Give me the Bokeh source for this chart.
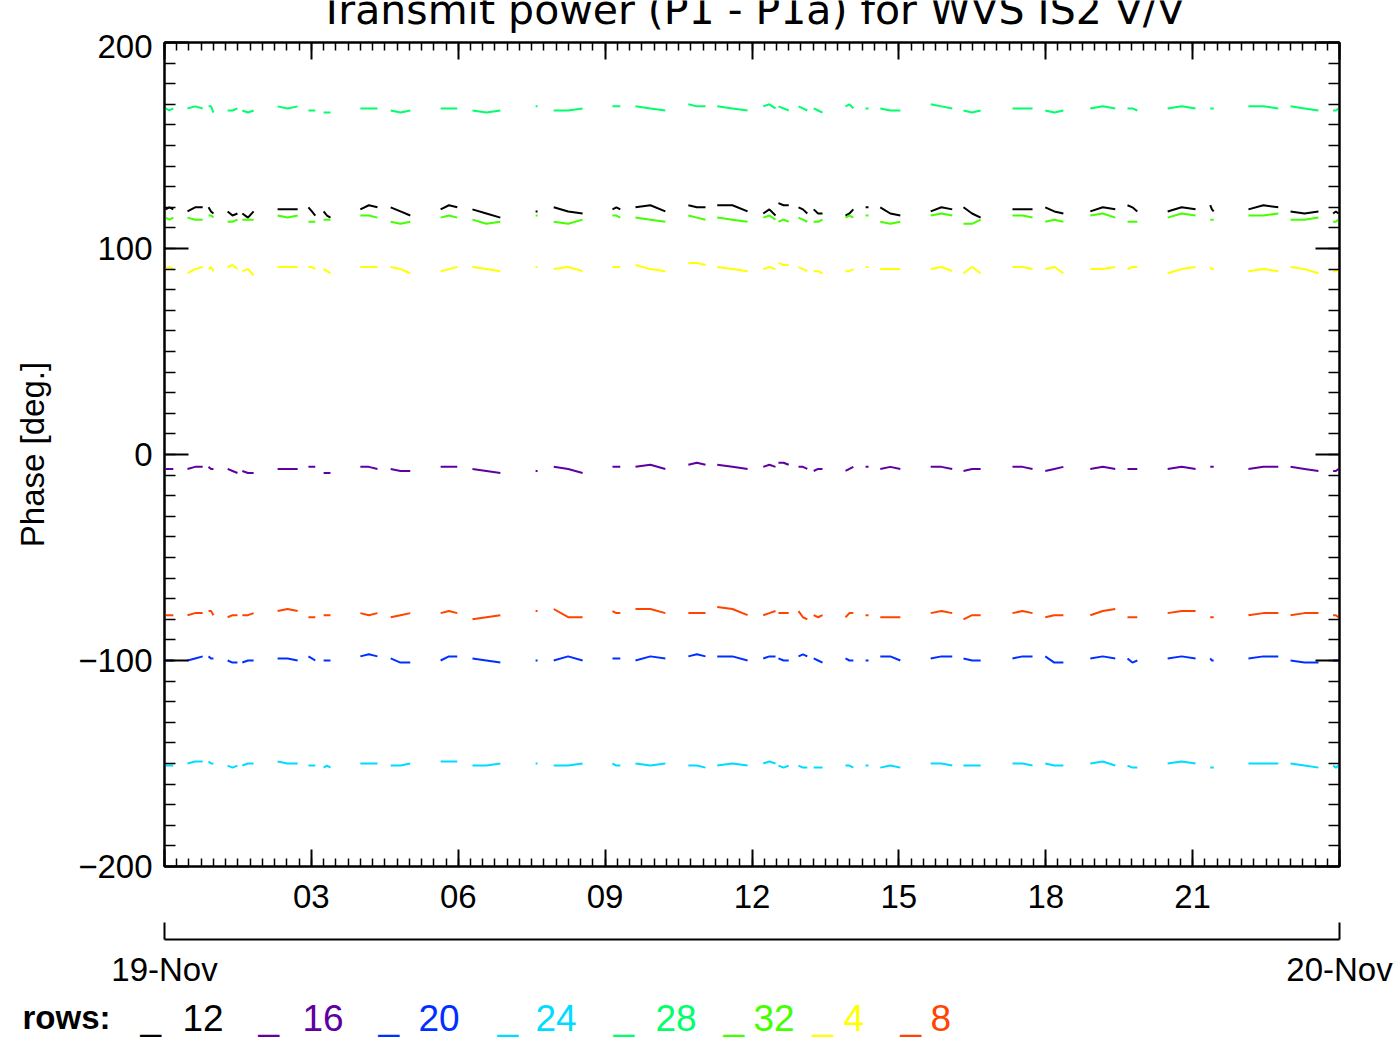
import numpy as np
from bokeh.plotting import figure
from bokeh.layouts import column
from bokeh.models import LinearAxis, FixedTicker, Range1d, Grid
from bokeh.core.properties import value
from bokeh.embed import file_html
from bokeh.resources import INLINE

# ---------------- data ----------------
# time windows (hours of 19-Nov) in which data exist
seg_start = [0.02, 0.47, 0.90, 1.29, 1.59, 2.31, 2.94, 3.25, 4.00, 4.62, 5.64, 6.29,
             7.58, 7.95, 9.15, 9.62, 10.70, 11.29, 12.23, 12.54, 12.95, 13.26, 13.91, 14.32,
             14.62, 15.65, 16.32, 17.32, 17.99, 18.91, 19.67, 20.49, 21.36, 22.14, 23.00, 23.87]
seg_end = [0.18, 0.78, 1.00, 1.49, 1.82, 2.72, 3.08, 3.39, 4.35, 5.02, 5.98, 6.86,
           7.62, 8.54, 9.31, 10.23, 11.05, 11.91, 12.48, 12.75, 13.13, 13.44, 14.07, 14.38,
           15.03, 16.09, 16.67, 17.73, 18.36, 19.42, 19.87, 21.06, 21.43, 22.75, 23.57, 23.98]

# phase (deg) at start / middle / end of each window
row_12 = [(119,120,119),(118,120,120),(120,118,117),(118,116,117),(117,115,118),(119,119,119),
          (120,118,116),(118,116,115),(119,121,120),(120,118,116),(119,121,120),(119,117,115),
          (118,118,118),(120,118,117),(119,120,119),(120,121,118),(121,120,120),(121,121,118),
          (117,119,116),(122,121,121),(120,119,117),(119,117,117),(116,117,119),(120,120,120),
          (120,117,116),(118,120,119),(120,117,115),(119,119,119),(120,118,117),(118,120,119),
          (121,120,118),(118,120,119),(121,119,118),(119,121,120),(118,117,118),(117,118,117)]
row_16 = [(-7,-7,-7),(-7,-6,-6),(-6,-7,-7),(-7,-8,-9),(-8,-9,-9),(-7,-7,-7),
          (-6,-6,-6),(-9,-9,-9),(-6,-6,-7),(-7,-8,-8),(-6,-6,-6),(-7,-8,-9),
          (-8,-8,-8),(-6,-7,-9),(-6,-6,-6),(-6,-5,-7),(-5,-4,-5),(-5,-6,-7),
          (-6,-5,-6),(-4,-4,-5),(-6,-6,-7),(-8,-7,-7),(-8,-7,-6),(-6,-6,-6),
          (-7,-6,-7),(-6,-6,-7),(-8,-7,-7),(-6,-6,-7),(-8,-7,-6),(-7,-6,-7),
          (-7,-7,-7),(-7,-6,-7),(-6,-6,-6),(-7,-6,-6),(-6,-7,-8),(-8,-8,-7)]
row_20 = [(-100,-100,-100),(-100,-99,-98),(-98,-99,-99),(-100,-101,-101),(-101,-100,-100),(-99,-99,-100),
          (-98,-99,-100),(-100,-100,-100),(-98,-97,-98),(-99,-101,-101),(-100,-98,-98),(-99,-100,-101),
          (-100,-100,-100),(-100,-98,-100),(-99,-99,-99),(-100,-98,-99),(-98,-97,-98),(-98,-98,-100),
          (-99,-98,-98),(-99,-100,-100),(-98,-97,-98),(-99,-100,-101),(-99,-100,-100),(-100,-100,-100),
          (-98,-98,-100),(-99,-98,-98),(-99,-100,-100),(-99,-98,-98),(-98,-101,-101),(-99,-98,-99),
          (-99,-101,-100),(-99,-98,-99),(-99,-100,-100),(-99,-98,-98),(-100,-101,-101),(-100,-100,-100)]
row_24 = [(-151,-151,-151),(-150,-149,-149),(-149,-150,-150),(-151,-152,-151),(-151,-150,-150),(-149,-150,-150),
          (-151,-151,-151),(-152,-151,-152),(-150,-150,-150),(-151,-151,-150),(-149,-149,-149),(-151,-151,-150),
          (-150,-150,-150),(-151,-151,-150),(-150,-151,-151),(-150,-151,-150),(-151,-151,-152),(-151,-150,-151),
          (-150,-149,-150),(-151,-152,-151),(-151,-152,-152),(-152,-152,-152),(-151,-151,-152),(-151,-151,-151),
          (-152,-151,-152),(-150,-150,-151),(-151,-151,-151),(-150,-150,-151),(-150,-151,-151),(-150,-149,-151),
          (-151,-152,-152),(-150,-149,-150),(-152,-152,-152),(-150,-150,-150),(-150,-151,-152),(-151,-152,-151)]
row_28 = [(168,167,168),(168,169,168),(169,169,166),(167,167,168),(167,166,167),(169,168,169),
          (167,167,167),(166,166,166),(168,168,168),(167,166,167),(168,168,168),(167,166,167),
          (169,169,169),(167,167,168),(169,169,169),(169,168,167),(170,169,169),(169,168,167),
          (169,170,168),(169,168,167),(169,168,167),(168,167,166),(169,170,168),(168,168,168),
          (168,167,167),(170,169,168),(167,166,167),(168,168,168),(167,166,167),(168,169,168),
          (168,168,167),(168,169,168),(168,168,168),(169,169,168),(169,168,167),(167,167,168)]
row_32 = [(115,114,115),(115,114,114),(116,116,115),(113,113,114),(114,114,114),(116,115,116),
          (113,113,113),(114,114,114),(116,116,115),(113,112,113),(115,116,115),(114,112,113),
          (116,116,116),(113,112,114),(116,116,115),(115,114,113),(116,115,114),(115,114,113),
          (115,116,114),(113,114,113),(115,114,113),(113,113,114),(115,116,115),(116,116,116),
          (113,112,113),(116,117,116),(112,112,114),(116,116,115),(113,114,113),(116,117,115),
          (113,113,113),(115,117,116),(114,114,114),(116,116,117),(114,114,115),(113,113,114)]
row_4 = [(90,91,90),(88,90,91),(90,91,89),(91,92,90),(89,90,87),(91,91,91),
         (91,91,90),(90,89,88),(91,91,91),(91,90,88),(89,90,91),(91,90,89),
         (91,91,91),(90,91,89),(91,91,91),(92,90,89),(93,93,92),(91,90,89),
         (90,91,90),(93,92,92),(91,90,89),(89,89,88),(89,89,90),(91,91,91),
         (90,90,90),(90,91,89),(88,91,88),(91,91,90),(90,91,88),(90,90,91),
         (90,91,91),(88,90,91),(91,90,90),(89,90,89),(91,90,88),(89,89,90)]
row_8 = [(-78,-78,-78),(-78,-77,-77),(-76,-76,-78),(-79,-78,-78),(-78,-78,-77),(-76,-75,-76),
         (-79,-79,-79),(-78,-78,-78),(-77,-78,-77),(-79,-78,-77),(-77,-76,-77),(-80,-79,-78),
         (-76,-76,-76),(-75,-79,-79),(-76,-77,-77),(-75,-75,-77),(-77,-77,-77),(-74,-75,-78),
         (-78,-77,-76),(-77,-77,-77),(-76,-79,-80),(-78,-79,-78),(-79,-77,-77),(-78,-78,-78),
         (-79,-79,-79),(-77,-76,-77),(-80,-78,-78),(-77,-76,-77),(-79,-78,-78),(-78,-76,-75),
         (-79,-79,-79),(-77,-76,-76),(-79,-79,-79),(-78,-77,-77),(-78,-77,-77),(-78,-78,-79)]

row_names = ["12", "16", "20", "24", "28", "32", "4", "8"]
row_data = [row_12, row_16, row_20, row_24, row_28, row_32, row_4, row_8]
row_colors = ["#000000", "#5f00a0", "#0030ff", "#00dcff", "#00ff6a", "#44ff00", "#ffff00", "#ff4400"]

x_major = [0, 3, 6, 9, 12, 15, 18, 21, 24]
x_labels = {0: "", 3: "03", 6: "06", 9: "09", 12: "12", 15: "15", 18: "18", 21: "21", 24: ""}
y_major = [-200, -100, 0, 100, 200]
title_text = "Transmit power (P1 - P1a) for WVS IS2 V/V"
y_title = "Phase [deg.]"
day_labels = {0: "19-Nov", 24: "20-Nov"}

W = 1395            # canvas width
FL, FW = 164, 1175  # frame left / width inside canvas
TITLE_H = 34
LEG_H = 44

def no_title(f):
    try:
        f.title = None
    except Exception:
        f.title.visible = False

def bare(h):
    f = figure(width=W, height=h, x_range=Range1d(0, W), y_range=Range1d(0, h),
               output_backend="svg", toolbar_location=None,
               x_axis_location=None, y_axis_location=None,
               min_border_left=0, min_border_right=0, min_border_top=0, min_border_bottom=0)
    no_title(f)
    f.frame_align = False
    f.outline_line_color = None
    f.background_fill_color = "white"
    f.border_fill_color = "white"
    f.center = [r for r in f.center if not isinstance(r, Grid)]
    return f

# ---------------- title strip ----------------
pt = bare(TITLE_H)
pt.text(x=[FL + FW / 2.0], y=[25], text=[title_text], text_align="center",
        text_baseline="alphabetic", text_font=value("DejaVu Sans"),
        text_font_size=value("41px"), text_color="black")

# ---------------- main plot ----------------
p = figure(frame_width=FW, frame_height=824, x_range=Range1d(0, 24), y_range=Range1d(-200, 200),
           output_backend="svg", toolbar_location=None,
           x_axis_location=None, y_axis_location=None,
           min_border_left=FL, min_border_right=W - FL - FW, min_border_top=8, min_border_bottom=130)
no_title(p)
p.frame_align = False
p.outline_line_color = "black"
p.outline_line_width = 2
p.background_fill_color = "white"
p.border_fill_color = "white"
p.center = [r for r in p.center if not isinstance(r, Grid)]

xt = FixedTicker(ticks=x_major, minor_ticks=[i * 0.25 for i in range(97)])
yt = FixedTicker(ticks=y_major, minor_ticks=list(range(-200, 201, 10)))

def style(ax, mj, mn):
    ax.major_tick_in = mj
    ax.major_tick_out = 0
    ax.minor_tick_in = mn
    ax.minor_tick_out = 0
    ax.axis_line_width = 2
    ax.axis_line_color = "black"
    ax.major_tick_line_width = 2
    ax.minor_tick_line_width = 1.5
    ax.major_tick_line_color = "black"
    ax.minor_tick_line_color = "black"
    ax.major_label_text_font = "Liberation Sans"
    ax.major_label_text_font_size = "33px"
    ax.major_label_text_color = "black"

left = LinearAxis(ticker=yt)
style(left, 24, 11)
left.major_label_standoff = 12
left.axis_label = y_title
left.axis_label_text_font = "Liberation Sans"
left.axis_label_text_font_size = "33px"
left.axis_label_text_font_style = "normal"
left.axis_label_text_color = "black"
left.axis_label_standoff = 24
p.add_layout(left, "left")

right = LinearAxis(ticker=yt, major_label_overrides={v: "" for v in y_major})
style(right, 24, 11)
right.major_label_text_font_size = "0px"
right.major_label_standoff = 0
p.add_layout(right, "right")

top = LinearAxis(ticker=xt, major_label_overrides={v: "" for v in x_major})
style(top, 17, 8)
top.major_label_text_font_size = "0px"
top.major_label_standoff = 0
p.add_layout(top, "above")

bottom = LinearAxis(ticker=xt, major_label_overrides=x_labels)
style(bottom, 17, 8)
bottom.major_label_standoff = 18
bottom.axis_label = " "
bottom.axis_label_text_font_size = "10px"
bottom.axis_label_standoff = 15
p.add_layout(bottom, "below")

days = LinearAxis(ticker=FixedTicker(ticks=[0, 24], minor_ticks=[]), major_label_overrides=day_labels)
style(days, 17, 0)
days.major_label_standoff = 11
p.add_layout(days, "below")

for name, data, col in zip(row_names, row_data, row_colors):
    xs, ys = [], []
    for s, e, v in zip(seg_start, seg_end, data):
        xs += [s, (s + e) / 2.0, e, np.nan]
        ys += [v[0], v[1], v[2], np.nan]
    p.line(xs, ys, line_color=col, line_width=2)

# ---------------- legend strip ----------------
pl = bare(LEG_H)
base = 23
pl.text(x=[22], y=[base], text=["rows:"], text_align="left", text_baseline="alphabetic",
        text_font=value("Liberation Sans"), text_font_style="bold",
        text_font_size=value("33px"), text_color="black")
bar_x = [140, 258, 378, 497, 613, 723, 812, 900]
num_x = [182, 302, 418, 535, 655, 753, 843, 930]
pl.text(x=bar_x, y=[base] * 8, text=["_"] * 8, text_color=row_colors, text_align="left",
        text_baseline="alphabetic", text_font=value("Liberation Sans"), text_font_size=value("37px"))
pl.text(x=num_x, y=[base] * 8, text=row_names, text_color=row_colors, text_align="left",
        text_baseline="alphabetic", text_font=value("Liberation Sans"), text_font_size=value("37px"))

layout = column(pt, p, pl, spacing=0)
open("out.html", "w").write(file_html(layout, INLINE))
